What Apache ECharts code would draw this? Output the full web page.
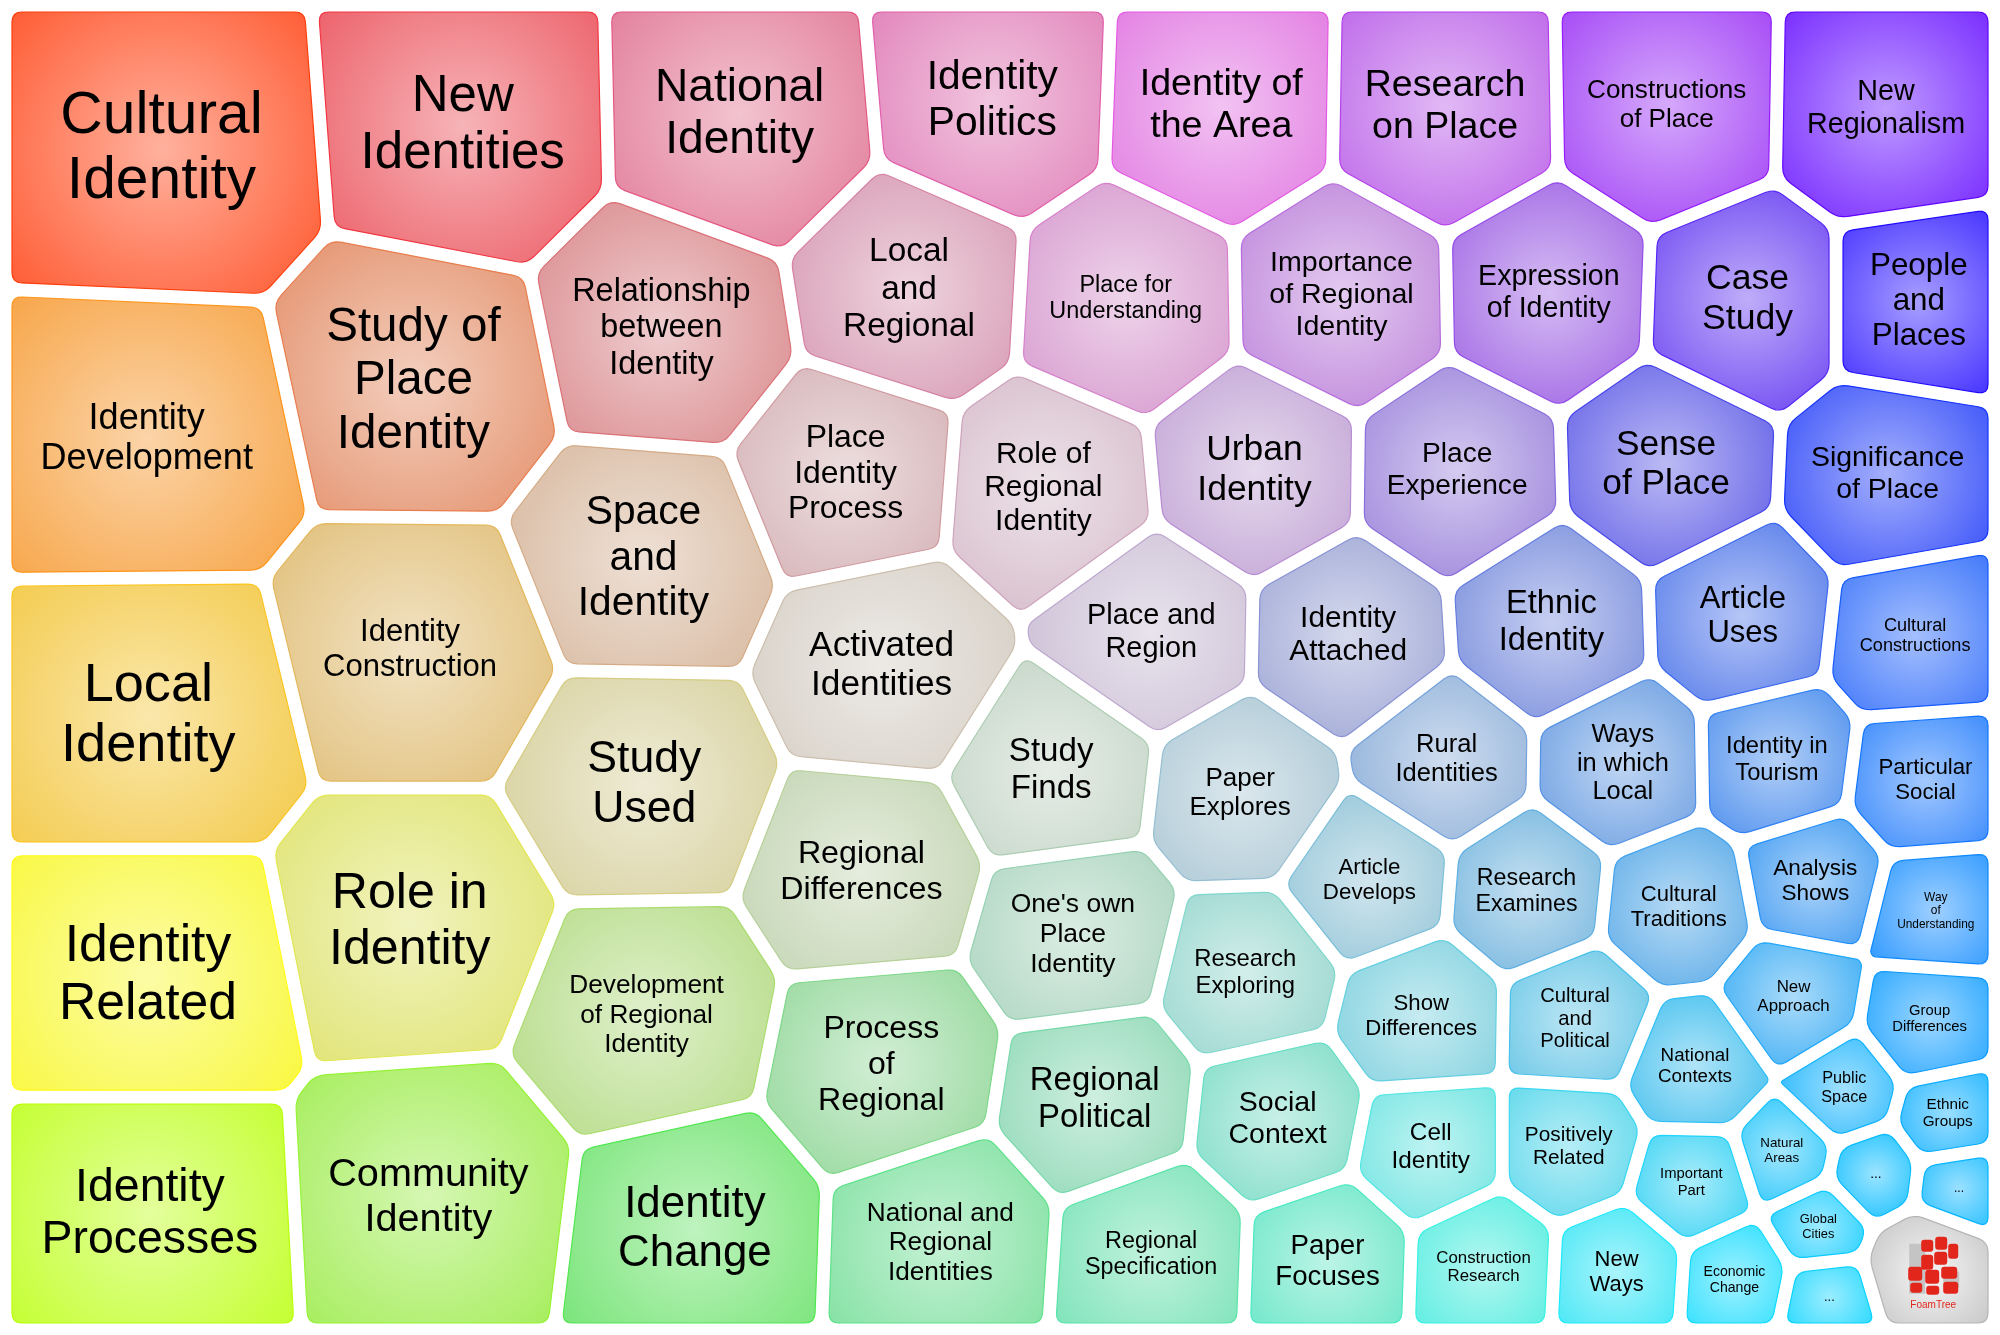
<!DOCTYPE html>
<html>
<head>
<meta charset="utf-8">
<title>Identity topics</title>
<script src="https://cdn.jsdelivr.net/npm/echarts@6/dist/echarts.min.js"></script>
<style>
    html, body { margin: 0; padding: 0; background: #fff; }
    #main { width: 2000px; height: 1335px; }
</style>
</head>
<body>
<div id="main"></div>
<script>
// topic labels (line breaks as in the picture)
var topics = [
    'Cultural\nIdentity', 'Identity\nDevelopment', 'Local\nIdentity', 'Identity\nRelated', 'Identity\nProcesses',
    'New\nIdentities', 'Study of\nPlace\nIdentity', 'Identity\nConstruction', 'Role in\nIdentity', 'Community\nIdentity',
    'National\nIdentity', 'Relationship\nbetween\nIdentity', 'Space\nand\nIdentity', 'Study\nUsed', 'Development\nof Regional\nIdentity', 'Identity\nChange',
    'Identity\nPolitics', 'Local\nand\nRegional', 'Place\nIdentity\nProcess', 'Activated\nIdentities', 'Regional\nDifferences', 'Process\nof\nRegional', 'National and\nRegional\nIdentities',
    'Identity of\nthe Area', 'Place for\nUnderstanding', 'Role of\nRegional\nIdentity', 'Place and\nRegion', 'Study\nFinds', "One's own\nPlace\nIdentity", 'Regional\nPolitical', 'Regional\nSpecification',
    'Research\non Place', 'Importance\nof Regional\nIdentity', 'Urban\nIdentity', 'Identity\nAttached', 'Paper\nExplores', 'Research\nExploring', 'Social\nContext', 'Paper\nFocuses',
    'Constructions\nof Place', 'Expression\nof Identity', 'Place\nExperience', 'Ethnic\nIdentity', 'Rural\nIdentities', 'Article\nDevelops', 'Research\nExamines', 'Show\nDifferences', 'Cell\nIdentity', 'Construction\nResearch',
    'New\nRegionalism', 'Case\nStudy', 'Sense\nof Place', 'Article\nUses', 'Ways\nin which\nLocal', 'Identity in\nTourism', 'Cultural\nTraditions', 'Cultural\nand\nPolitical', 'Positively\nRelated', 'New\nWays',
    'People\nand\nPlaces', 'Significance\nof Place', 'Cultural\nConstructions', 'Particular\nSocial', 'Analysis\nShows', 'Way\nof\nUnderstanding', 'New\nApproach', 'Group\nDifferences', 'National\nContexts',
    'Public\nSpace', 'Ethnic\nGroups', 'Natural\nAreas', 'Important\nPart', '...', '...', 'Global\nCities', 'Economic\nChange', '...',
    'FoamTree'
];

// relative weight of each topic (cell area)
var topicWeights = [
    52, 48, 46, 42, 39,
    38, 37, 35, 36, 37,
    32, 29, 27, 27, 28, 30,
    22, 22, 21, 24, 22, 23, 21,
    22, 21, 20, 19, 18, 17, 16, 15,
    22, 21, 20, 17, 15, 13, 12.5, 11.5,
    22, 19, 19, 18, 12, 12, 11.5, 11.5, 9.5, 9,
    24, 19, 20, 15, 12.5, 10, 10.5, 9, 8.5, 8,
    14, 18, 13.5, 10, 8, 6.5, 7.5, 7, 8.5,
    4.5, 4.5, 3.3, 6, 2.8, 2.6, 2.6, 4.8, 2.6,
    7.5
];

// layout anchor of each topic, in the map's own 1568 x 1047 units
var anchorX = [
    128, 118, 120, 120, 120,
    365, 327, 325, 325, 340,
    582, 522, 508, 505, 508, 545,
    778, 713, 667, 697, 682, 695, 740,
    958, 885, 822, 903, 828, 845, 862, 906,
    1133, 1052, 985, 1058, 975, 980, 1005, 1043,
    1308, 1214, 1143, 1217, 1133, 1074, 1198, 1115, 1122, 1165,
    1480, 1370, 1307, 1366, 1272, 1393, 1316, 1238, 1232, 1270,
    1502, 1480, 1502, 1510, 1422, 1518, 1405, 1512, 1330,
    1447, 1527, 1400, 1328, 1470, 1535, 1427, 1362, 1433,
    1510
];
var anchorY = [
    118, 343, 562, 766, 952,
    100, 298, 512, 725, 940,
    95, 258, 438, 616, 798, 965,
    78, 228, 373, 522, 685, 836, 972,
    85, 238, 385, 497, 605, 732, 862, 983,
    88, 235, 370, 500, 622, 765, 877, 988,
    85, 232, 372, 490, 598, 690, 700, 798, 900, 992,
    88, 238, 367, 485, 600, 598, 712, 800, 900, 997,
    238, 375, 500, 613, 692, 716, 785, 803, 838,
    855, 877, 905, 928, 920, 928, 962, 1003, 1018,
    995
];

var mapWidth = 1568, mapHeight = 1047;

// hue as a function of the angle around the middle of the map
var hueStops = [
    [-180, 45], [-163.5, 32], [-148.5, 12], [-136.5, -4], [-120, -18], [-98.5, -35], [-77, -60],
    [-59, -80], [-46, -88], [-37, -98], [-26, -115], [-16, -128], [-5, -138], [4.6, -145],
    [20, -155], [25, -160], [46, -175], [54, -185], [66, -195], [82.5, -205], [105, -220],
    [127, -240], [143, -270], [152, -283], [164, -300], [180, -315]
];
var hueHubX = 850, hueHubY = 560;
// saturation grows with the distance from this point
var paleHubX = 784, paleHubY = 523;

var hueAt = function (deg) {
    var i, a, b, t;
    for (i = 0; i < hueStops.length - 1; i++) {
        a = hueStops[i];
        b = hueStops[i + 1];
        if (deg >= a[0] && deg <= b[0]) {
            t = (deg - a[0]) / (b[0] - a[0]);
            return ((a[1] + t * (b[1] - a[1])) % 360 + 360) % 360;
        }
    }
    return 45;
};

var hsl2rgb = function (h, s, l) {
    s /= 100; l /= 100;
    var k = function (n) { return (n + h / 30) % 12; },
        a = s * Math.min(l, 1 - l),
        f = function (n) { return l - a * Math.max(-1, Math.min(k(n) - 3, Math.min(9 - k(n), 1))); };
    return [Math.round(255 * f(0)), Math.round(255 * f(8)), Math.round(255 * f(4))];
};

var rgbStr = function (c) { return 'rgb(' + c[0] + ',' + c[1] + ',' + c[2] + ')'; };
var mixWhite = function (c, t) {
    return [Math.round(c[0] + (255 - c[0]) * t), Math.round(c[1] + (255 - c[1]) * t), Math.round(c[2] + (255 - c[2]) * t)];
};

var cellColors = function (x, y) {
    var deg = Math.atan2(y - hueHubY, x - hueHubX) * 180 / Math.PI,
        d = Math.hypot(x - paleHubX, y - paleHubY),
        h = hueAt(deg),
        s = Math.max(8, Math.min(100, 5 + 0.125 * d)),
        l = Math.max(59, 85 - 0.032 * d);
    var base = hsl2rgb(h, s, l);
    return {
        edge: rgbStr(base),
        middle: rgbStr(mixWhite(base, 0.52)),
        line: rgbStr(hsl2rgb(h, Math.min(100, s + 8), l - 8))
    };
};

// ---------- geometry helpers ----------
var clip = function (poly, a, b, c) {
    var out = [], k, p, q, dp, dq, t;
    for (k = 0; k < poly.length; k++) {
        p = poly[k];
        q = poly[(k + 1) % poly.length];
        dp = a * p[0] + b * p[1] - c;
        dq = a * q[0] + b * q[1] - c;
        if (dp <= 0) out.push(p);
        if ((dp <= 0) !== (dq <= 0)) {
            t = dp / (dp - dq);
            out.push([p[0] + t * (q[0] - p[0]), p[1] + t * (q[1] - p[1])]);
        }
    }
    return out;
};

var centroid = function (poly) {
    var a = 0, cx = 0, cy = 0, k, p, q, cr;
    for (k = 0; k < poly.length; k++) {
        p = poly[k];
        q = poly[(k + 1) % poly.length];
        cr = p[0] * q[1] - q[0] * p[1];
        a += cr;
        cx += (p[0] + q[0]) * cr;
        cy += (p[1] + q[1]) * cr;
    }
    a /= 2;
    return { x: cx / (6 * a), y: cy / (6 * a), area: Math.abs(a) };
};

var cleanPoly = function (poly) {
    var out = [], k, p, q;
    for (k = 0; k < poly.length; k++) {
        p = poly[k];
        q = out.length ? out[out.length - 1] : null;
        if (!q || Math.abs(p[0] - q[0]) + Math.abs(p[1] - q[1]) > 1) out.push(p);
    }
    if (out.length > 1) {
        p = out[0]; q = out[out.length - 1];
        if (Math.abs(p[0] - q[0]) + Math.abs(p[1] - q[1]) <= 1) out.pop();
    }
    return out;
};

var roundPoly = function (poly, r) {
    var out = [], n = poly.length, k, s, prev, cur, next, d1, d2, rr, a, b, t;
    for (k = 0; k < n; k++) {
        prev = poly[(k - 1 + n) % n];
        cur = poly[k];
        next = poly[(k + 1) % n];
        d1 = Math.hypot(prev[0] - cur[0], prev[1] - cur[1]);
        d2 = Math.hypot(next[0] - cur[0], next[1] - cur[1]);
        rr = Math.min(r, d1 * 0.45, d2 * 0.45);
        a = [cur[0] + (prev[0] - cur[0]) * rr / d1, cur[1] + (prev[1] - cur[1]) * rr / d1];
        b = [cur[0] + (next[0] - cur[0]) * rr / d2, cur[1] + (next[1] - cur[1]) * rr / d2];
        for (s = 0; s <= 4; s++) {
            t = s / 4;
            out.push([
                (1 - t) * (1 - t) * a[0] + 2 * (1 - t) * t * cur[0] + t * t * b[0],
                (1 - t) * (1 - t) * a[1] + 2 * (1 - t) * t * cur[1] + t * t * b[1]
            ]);
        }
    }
    return out;
};

var insideConvex = function (poly, x, y) {
    var k, p, q, cr, sign = 0;
    for (k = 0; k < poly.length; k++) {
        p = poly[k];
        q = poly[(k + 1) % poly.length];
        cr = (q[0] - p[0]) * (y - p[1]) - (q[1] - p[1]) * (x - p[0]);
        if (cr !== 0) {
            if (sign === 0) sign = cr > 0 ? 1 : -1;
            else if ((cr > 0 ? 1 : -1) !== sign) return false;
        }
    }
    return true;
};

var measureCtx = document.createElement('canvas').getContext('2d');
var fontFamily = '"Liberation Sans", Arial, sans-serif';
var lineFactor = 1.12;

var lineWidths = function (text) {
    measureCtx.font = '100px ' + fontFamily;
    return text.split('\n').map(function (line) {
        return measureCtx.measureText(line).width / 100;
    });
};

var fitFont = function (poly, c, widths) {
    var shrink = 0.82, pad = 6,
        inner = poly.map(function (p) {
            var dist = Math.hypot(p[0] - c.x, p[1] - c.y),
                f = Math.max(0.2, shrink - pad / dist);
            return [c.x + (p[0] - c.x) * f, c.y + (p[1] - c.y) * f];
        }),
        fits = function (fs) {
            var lh = fs * lineFactor, n = widths.length, top = c.y - n * lh / 2, k, hw, y0, y1;
            for (k = 0; k < n; k++) {
                hw = widths[k] * fs / 2;
                y0 = top + k * lh + 0.12 * lh;
                y1 = top + (k + 1) * lh - 0.08 * lh;
                if (!insideConvex(inner, c.x - hw, y0) || !insideConvex(inner, c.x + hw, y0) ||
                    !insideConvex(inner, c.x - hw, y1) || !insideConvex(inner, c.x + hw, y1)) {
                    return false;
                }
            }
            return true;
        },
        hi = 0.205 * Math.sqrt(c.area), lo = 3, mid, it;
    if (fits(hi)) return hi;
    for (it = 0; it < 24; it++) {
        mid = (lo + hi) / 2;
        if (fits(mid)) lo = mid; else hi = mid;
    }
    return lo;
};

// ---------- power-diagram layout, computed once through the axes ----------
var cells = null;

var buildCells = function (api, rect) {
    var pts = [], i, j, total = 0, weights = [], half = 7, margin = 5,
        area = rect.width * rect.height, alpha = 0.5, poly, p, q, nx, ny, L, c, list = [];
    for (i = 0; i < topics.length; i++) {
        pts.push(api.coord([anchorX[i], anchorY[i]]));
        total += topicWeights[i];
    }
    for (i = 0; i < topics.length; i++) {
        weights.push(alpha * topicWeights[i] / total * area / Math.PI);
    }
    for (i = 0; i < topics.length; i++) {
        var x0 = rect.x + margin + half, y0 = rect.y + margin + half,
            x1 = rect.x + rect.width - margin - half, y1 = rect.y + rect.height - margin - half;
        poly = [[x0, y0], [x1, y0], [x1, y1], [x0, y1]];
        p = pts[i];
        for (j = 0; j < topics.length && poly.length; j++) {
            if (j === i) continue;
            q = pts[j];
            nx = q[0] - p[0];
            ny = q[1] - p[1];
            L = Math.sqrt(nx * nx + ny * ny);
            c = (q[0] * q[0] + q[1] * q[1] - p[0] * p[0] - p[1] * p[1] - weights[j] + weights[i]) / 2;
            poly = clip(poly, nx / L, ny / L, c / L - half);
        }
        poly = cleanPoly(poly);
        list.push(poly);
    }
    return list;
};

var logoBlocks = [
    [-10, -30, 12, 12], [4, -33, 12, 13], [17, -26, 10, 15], [3, -18, 13, 13], [-10, -15, 12, 15],
    [-23, -3, 14, 14], [-6, 0, 14, 14], [10, -3, 16, 12], [-21, 13, 12, 10], [-5, 16, 13, 9], [12, 12, 15, 12]
];

var renderCell = function (params, api) {
    var i = api.value(3), poly, c, colors, widths, fs, r, children;
    if (!cells) {
        cells = buildCells(api, params.coordSys);
    }
    poly = cells[i];
    if (!poly || poly.length < 3) return;
    c = centroid(poly);
    r = 0;
    poly.forEach(function (p) { r = Math.max(r, Math.hypot(p[0] - c.x, p[1] - c.y)); });

    if (topics[i] === 'FoamTree') {
        children = [{
            type: 'polygon',
            shape: { points: roundPoly(poly, 10) },
            style: {
                fill: new echarts.graphic.RadialGradient(c.x, c.y, r, [
                    { offset: 0, color: '#f6f6f6' }, { offset: 1, color: '#c8c8c8' }
                ], true),
                stroke: '#b5b5b5',
                lineWidth: 1.2
            }
        }, {
            type: 'rect', shape: { x: c.x - 22, y: c.y - 30, width: 16, height: 50 }, style: { fill: '#c4c4c4' }
        }, {
            type: 'rect', shape: { x: c.x + 12, y: c.y - 2, width: 16, height: 16 }, style: { fill: '#c4c4c4' }
        }, {
            type: 'group',
            children: logoBlocks.map(function (b) {
                return {
                    type: 'rect',
                    shape: { x: c.x + b[0], y: c.y - 4 + b[1], width: b[2], height: b[3], r: 3 },
                    style: { fill: '#e3261b' }
                };
            })
        }, {
            type: 'text',
            style: {
                text: 'FoamTree', x: c.x + 2, y: c.y + 32, align: 'center', verticalAlign: 'middle',
                fontSize: 10, fontFamily: fontFamily, fill: '#e3261b'
            }
        }];
        return { type: 'group', children: children };
    }

    colors = cellColors(anchorX[i], anchorY[i]);
    widths = lineWidths(topics[i]);
    fs = fitFont(poly, c, widths);

    return {
        type: 'group',
        children: [{
            type: 'polygon',
            shape: { points: roundPoly(poly, 10) },
            style: {
                fill: new echarts.graphic.RadialGradient(c.x, c.y, r, [
                    { offset: 0, color: colors.middle }, { offset: 1, color: colors.edge }
                ], true),
                stroke: colors.line,
                lineWidth: 1.2
            }
        }, {
            type: 'text',
            style: {
                text: topics[i],
                x: c.x,
                y: c.y,
                align: 'center',
                verticalAlign: 'middle',
                fontSize: fs,
                lineHeight: fs * lineFactor,
                fontFamily: fontFamily,
                fill: '#000'
            }
        }]
    };
};

var chart = echarts.init(document.getElementById('main'), null, { renderer: 'canvas' });

chart.setOption({
    backgroundColor: '#ffffff',
    animation: false,
    grid: { left: 0, right: 0, top: 0, bottom: 0 },
    xAxis: { type: 'value', min: 0, max: mapWidth, show: false },
    yAxis: { type: 'value', min: 0, max: mapHeight, inverse: true, show: false },
    series: [{
        type: 'custom',
        coordinateSystem: 'cartesian2d',
        silent: true,
        clip: false,
        renderItem: renderCell,
        data: topics.map(function (t, i) {
            return [anchorX[i], anchorY[i], topicWeights[i], i];
        })
    }]
});
</script>
</body>
</html>
